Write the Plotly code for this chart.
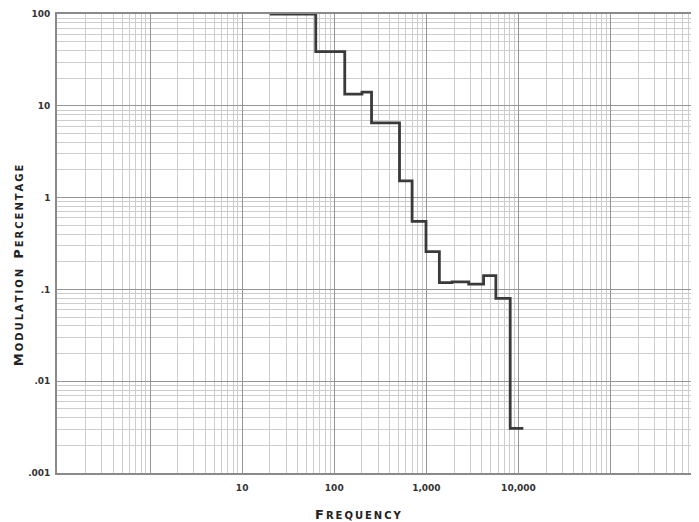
import plotly.graph_objects as go

# Step curve: frequency (Hz) at which each level begins, and the level (%)
freq = [20, 63, 130, 200, 254, 511, 700, 991, 1384, 1900, 2880, 4180, 5680, 8130, 11300]
modulation = [100, 39, 13.4, 14.1, 6.5, 1.52, 0.55, 0.258, 0.1186, 0.121, 0.114, 0.1415, 0.080, 0.00307, 0.00307]

x_tickvals = [0.1, 1, 10, 100, 1000, 10000, 100000]
x_ticktext = ["", "", "10", "100", "1,000", "10,000", ""]
y_tickvals = [0.001, 0.01, 0.1, 1, 10, 100]
y_ticktext = [".001", ".01", ".1", "1", "10", "100"]

TS = "\u2009"  # thin space used as letter spacing


def small_caps(words, big=13, small=10):
    out = []
    for w in words:
        rest = TS.join(w[1:])
        out.append(f"<span style='font-size:{big}px'>{w[0]}</span>{TS}{rest}")
    return "\u2003".join(out)


x_title = small_caps(["FREQUENCY"])
y_title = small_caps(["MODULATION", "PERCENTAGE"])

fig = go.Figure()
fig.add_trace(go.Scatter(
    x=freq, y=modulation, mode="lines", line_shape="hv",
    line=dict(color="#3a3a3a", width=2.8), showlegend=False, hoverinfo="skip"))

tickfont = dict(family="DejaVu Sans, sans-serif", size=9, color="#333333", weight="bold")
titlefont = dict(family="DejaVu Sans, sans-serif", size=10, color="#222222", weight="bold")

axis_common = dict(
    type="log",
    showgrid=True, gridcolor="#959595", gridwidth=1.4,
    minor=dict(dtick="D1", showgrid=True, gridcolor="#cdcdcd", gridwidth=1),
    showline=True, linecolor="#8a8a8a", linewidth=1.6, mirror=True,
    ticks="", zeroline=False, tickfont=tickfont,
)

fig.update_layout(
    width=699, height=522,
    margin=dict(l=49, r=0, t=6, b=57),
    paper_bgcolor="white", plot_bgcolor="white",
    xaxis=dict(range=[-1.01, 6.025], tickmode="array",
               tickvals=x_tickvals, ticktext=x_ticktext,
               ticklabelstandoff=5, **axis_common),
    yaxis=dict(range=[-3, 2], tickmode="array",
               tickvals=y_tickvals, ticktext=y_ticktext,
               ticklabelstandoff=3, **axis_common),
    annotations=[
        dict(text=x_title, xref="paper", yref="paper", x=0.466, y=-0.0915,
             xanchor="center", yanchor="middle", showarrow=False, font=titlefont),
        dict(text=y_title, xref="paper", yref="paper", x=-0.06, y=0.453,
             xanchor="center", yanchor="middle", showarrow=False, textangle=-90,
             font=titlefont),
    ],
)

fig.write_html("out.html")
